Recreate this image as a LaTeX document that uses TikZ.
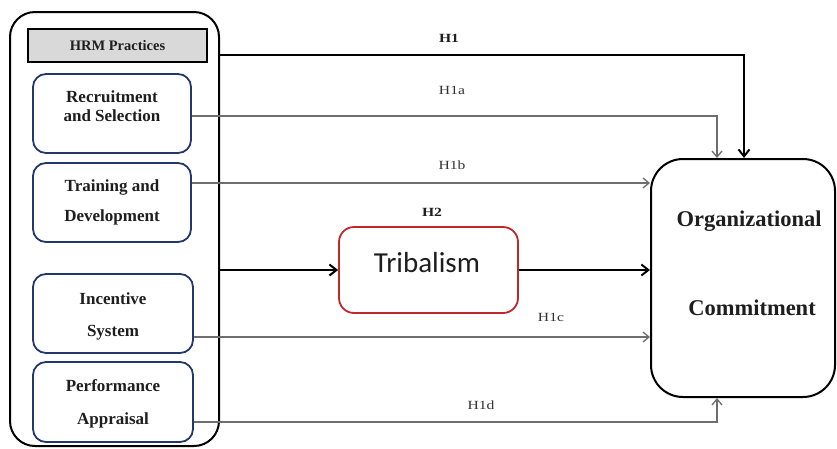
\documentclass[tikz,border=0pt]{standalone}
\usepackage{fontspec}
\setmainfont{Liberation Serif}
\newfontfamily\calib{Carlito}
\usetikzlibrary{arrows.meta}

\definecolor{navy}{HTML}{22376B}
\definecolor{tribred}{HTML}{C0272D}
\definecolor{hdrgray}{HTML}{D9D9D9}
\definecolor{linkgray}{HTML}{6E6E6E}
\definecolor{txt}{HTML}{1E1E1E}
\definecolor{lbl}{HTML}{333333}

\tikzset{
  frame/.style={draw=black, line width=2pt, rounded corners=25pt},
  hdrbox/.style={draw=black, line width=1.8pt, fill=hdrgray},
  dimbox/.style={draw=navy, line width=1.8pt, rounded corners=13pt},
  medbox/.style={draw=tribred, line width=1.8pt, rounded corners=15pt},
  outbox/.style={draw=black, line width=2pt, rounded corners=32pt},
  boxtxt/.style={anchor=base, inner sep=0pt, text=txt,
    font=\fontsize{17}{20}\selectfont\bfseries},
  octxt/.style={anchor=base, inner sep=0pt, text=txt,
    font=\fontsize{22.5}{26}\selectfont\bfseries},
  hyp/.style={inner sep=0pt, text=lbl, font=\fontsize{12.5}{14}\selectfont},
  hypb/.style={inner sep=0pt, text=txt, font=\fontsize{12.5}{14}\selectfont\bfseries},
  strong/.style={draw=black, line width=2.4pt,
    -{Straight Barb[length=7pt,width=11pt,line width=2pt]}},
  weak/.style={draw=linkgray, line width=1.6pt,
    -{Straight Barb[length=6pt,width=10pt,line width=1.3pt]}},
}

\begin{document}
\begin{tikzpicture}[x=1pt, y=-1pt]
  \useasboundingbox (0,0) rectangle (837,448);

  % HRM practices container
  \node[frame, minimum width=209pt, minimum height=434pt] (outer) at (114.5,229) {};
  \node[hdrbox, minimum width=179pt, minimum height=33pt] (hdr) at (117.5,45.5) {};
  \node[anchor=base, inner sep=0pt, text=txt,
        font=\fontsize{14.5}{16}\selectfont\bfseries] (hdrtxt) at (117.5,50) {HRM Practices};

  % dimension boxes
  \node[dimbox, minimum width=158pt, minimum height=79pt] (rs) at (112,113.5) {};
  \node[dimbox, minimum width=158pt, minimum height=79pt] (td) at (112,202.5) {};
  \node[dimbox, minimum width=160pt, minimum height=79pt] (is) at (113,313.5) {};
  \node[dimbox, minimum width=160pt, minimum height=80pt] (pa) at (113,402) {};

  \node[boxtxt] (rs1) at (112,102) {Recruitment};
  \node[boxtxt] (rs2) at (112,121) {and Selection};
  \node[boxtxt] (td1) at (112,191) {Training and};
  \node[boxtxt] (td2) at (112,221) {Development};
  \node[boxtxt] (is1) at (113,304) {Incentive};
  \node[boxtxt] (is2) at (113,336) {System};
  \node[boxtxt] (pa1) at (113,391) {Performance};
  \node[boxtxt] (pa2) at (113,424) {Appraisal};

  % mediator
  \node[medbox, minimum width=179pt, minimum height=86pt] (tr) at (428.5,270) {};
  \node[anchor=base, inner sep=0pt, text=txt,
        font=\calib\fontsize{29}{32}\selectfont] (trtxt) at (427,272) {Tribalism};

  % outcome
  \node[outbox, minimum width=184pt, minimum height=238pt] (oc) at (743,278) {};
  \node[octxt] (oc1) at (749,226) {Organizational};
  \node[octxt] (oc2) at (752,315) {Commitment};

  % routing points
  \coordinate (h1turn) at (744,55);
  \coordinate (h1aturn) at (717,116);
  \coordinate (h1brow) at (0,183);
  \coordinate (h1crow) at (0,337);
  \coordinate (h1dturn) at (717,422);

  % paths
  \draw[strong] (outer.east |- h1turn) -- (h1turn) -- (oc.north -| h1turn);
  \draw[weak] (rs.east |- h1aturn) -- (h1aturn) -- (oc.north -| h1aturn);
  \draw[weak] (td.east |- h1brow) -- (oc.west |- h1brow);
  \draw[strong] (outer.east |- tr.west) -- (tr.west);
  \draw[strong] (tr.east) -- (oc.west |- tr.east);
  \draw[weak] (is.east |- h1crow) -- (oc.west |- h1crow);
  \draw[weak] (pa.east |- h1dturn) -- (h1dturn) -- (oc.south -| h1dturn);

  % hypothesis labels
  \node[hypb] (lh1) at (449,38) {\scalebox{1.25}[1]{H1}};
  \node[hyp] (lh1a) at (452,90) {\scalebox{1.25}[1]{H1a}};
  \node[hyp] (lh1b) at (452,165) {\scalebox{1.25}[1]{H1b}};
  \node[hypb] (lh2) at (432,212) {\scalebox{1.25}[1]{H2}};
  \node[hyp] (lh1c) at (551,317) {\scalebox{1.25}[1]{H1c}};
  \node[hyp] (lh1d) at (481,405) {\scalebox{1.25}[1]{H1d}};
\end{tikzpicture}
\end{document}
